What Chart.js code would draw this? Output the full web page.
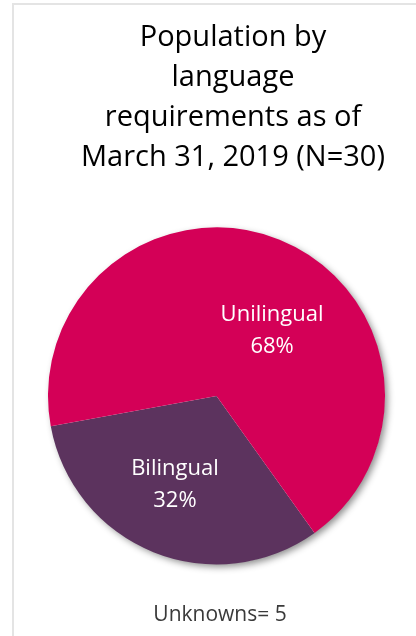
<!DOCTYPE html>
<html>
<head>
<meta charset="utf-8">
<script src="https://cdn.jsdelivr.net/npm/chart.js@4.4.1/dist/chart.umd.min.js"></script>
<style>
    html, body { margin: 0; padding: 0; background: #fff; }
    body { width: 416px; height: 636px; position: relative; overflow: hidden; }
    .frame {
        position: absolute; left: 12px; top: 3px; right: 0; bottom: 0;
        border-left: 2px solid #e4e4e4; border-top: 2px solid #e4e4e4;
    }
    #pieChart { position: absolute; left: 0; top: 0; }
</style>
</head>
<body>
<div class="frame"></div>
<canvas id="pieChart" width="416" height="636"></canvas>
<script>
// ===========================
// DATA
// ===========================
const titleLines = ['Population by', 'language', 'requirements as of', 'March 31, 2019 (N=30)'];
const categories = ['Bilingual', 'Unilingual'];
const counts = [8, 17];
const unknownsLabel = 'Unknowns= 5';
const sliceColors = ['#5c335e', '#d40057'];

const FONT = '"Open Sans", "Noto Sans", sans-serif';

// Drop shadow under the whole pie (drawn once so slices don't shade each other)
const pieShadow = {
    id: 'pieShadow',
    beforeDatasetsDraw(chart) {
        const arc = chart.getDatasetMeta(0).data[0];
        if (!arc) return;
        const ctx = chart.ctx;
        ctx.save();
        ctx.shadowColor = 'rgba(0, 0, 0, 0.45)';
        ctx.shadowBlur = 7;
        ctx.shadowOffsetX = 3;
        ctx.shadowOffsetY = 3;
        ctx.fillStyle = '#ffffff';
        ctx.beginPath();
        ctx.arc(arc.x, arc.y, arc.outerRadius - 0.5, 0, Math.PI * 2);
        ctx.fill();
        ctx.restore();
    }
};

// Two-line labels inside each slice: name + percent
const sliceLabels = {
    id: 'sliceLabels',
    afterDatasetsDraw(chart, args, opts) {
        const ctx = chart.ctx;
        const meta = chart.getDatasetMeta(0);
        const data = chart.data.datasets[0].data;
        const total = data.reduce((a, b) => a + b, 0);
        ctx.save();
        ctx.fillStyle = opts.color;
        ctx.font = opts.size + 'px ' + FONT;
        ctx.textAlign = 'center';
        ctx.textBaseline = 'middle';
        meta.data.forEach((arc, i) => {
            const pos = arc.tooltipPosition();
            const off = opts.offsets[i] || { x: 0, y: 0 };
            const cx = pos.x + off.x;
            const cy = pos.y + off.y;
            const pct = Math.round(data[i] / total * 100) + '%';
            ctx.fillText(chart.data.labels[i], cx, cy - opts.lineGap / 2);
            ctx.fillText(pct, cx, cy + opts.lineGap / 2);
        });
        ctx.restore();
    }
};

// Nudge title / footer text sideways to match the original layout
const textShift = {
    id: 'textShift',
    afterLayout(chart, args, opts) {
        if (chart.titleBlock) {
            chart.titleBlock.left += opts.title;
            chart.titleBlock.right += opts.title;
        }
        const sub = chart.boxes.find(b => b !== chart.titleBlock && b.options && b.options.position === 'bottom');
        if (sub) {
            sub.left += opts.subtitle;
            sub.right += opts.subtitle;
        }
    }
};

const ctx = document.getElementById('pieChart').getContext('2d');

new Chart(ctx, {
    type: 'pie',
    data: {
        labels: categories,
        datasets: [{
            data: counts,
            backgroundColor: sliceColors,
            borderWidth: 0,
            hoverOffset: 0
        }]
    },
    options: {
        responsive: false,
        animation: false,
        rotation: 144.4,
        events: [],
        layout: {
            padding: { left: 48, right: 31, top: 0, bottom: 0 }
        },
        plugins: {
            legend: { display: false },
            tooltip: { enabled: false },
            title: {
                display: true,
                text: titleLines,
                color: '#000000',
                font: { family: FONT, size: 29, weight: 'normal', lineHeight: 40 / 29 },
                padding: { top: 18, bottom: 49 }
            },
            subtitle: {
                display: true,
                position: 'bottom',
                text: unknownsLabel,
                color: '#3a3a3a',
                font: { family: FONT, size: 21, weight: 'normal', lineHeight: 1.2 },
                padding: { top: 38, bottom: 8 }
            },
            sliceLabels: {
                color: '#ffffff',
                size: 22,
                lineGap: 32,
                offsets: [{ x: -10, y: 11 }, { x: 24, y: 13 }]
            },
            textShift: { title: 16.5, subtitle: 3.5 }
        }
    },
    plugins: [pieShadow, sliceLabels, textShift]
});
</script>
</body>
</html>
